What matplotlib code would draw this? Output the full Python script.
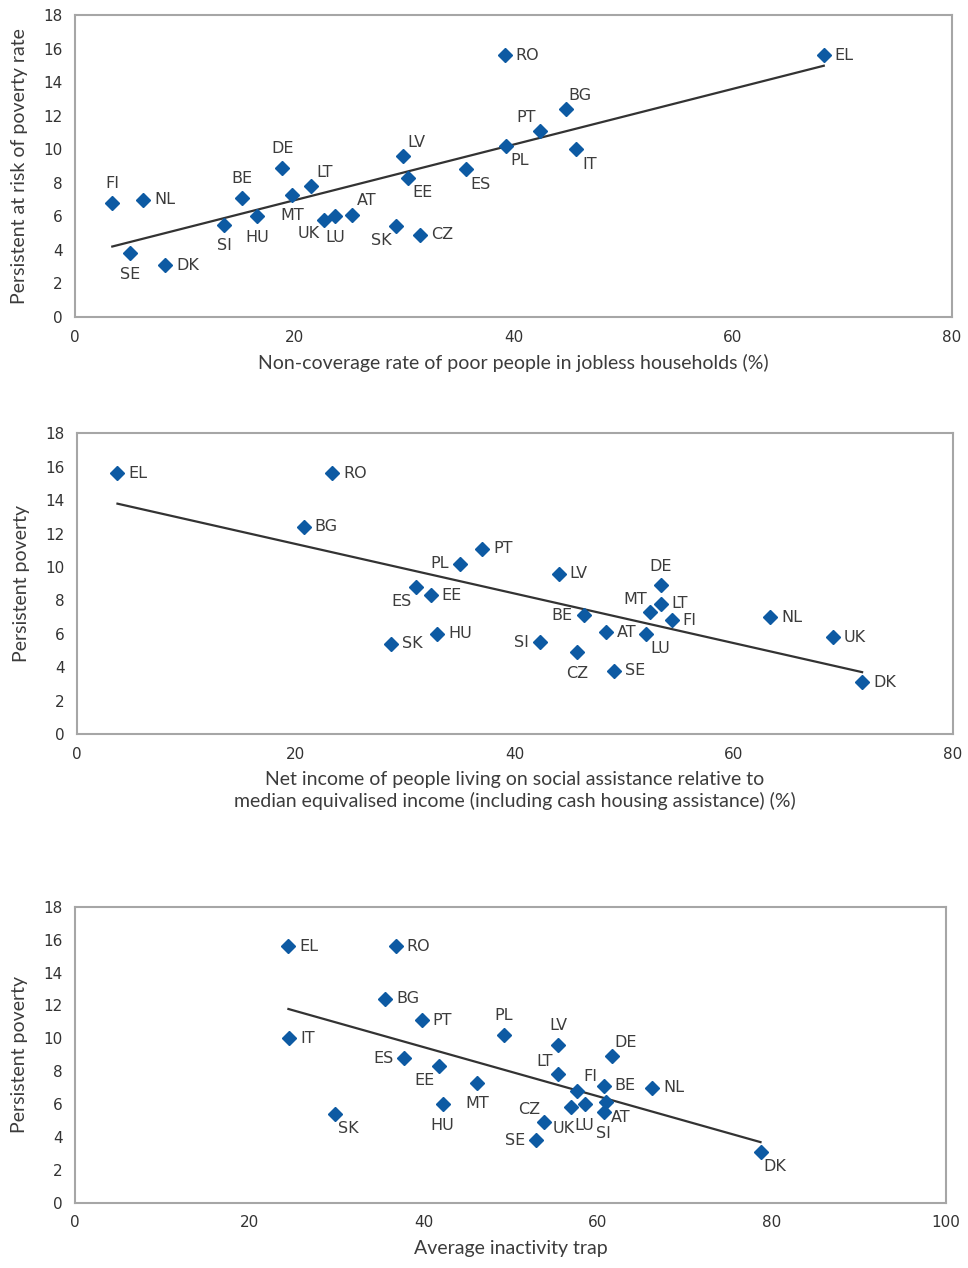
import matplotlib
matplotlib.use("Agg")
import matplotlib.pyplot as plt
import numpy as np

countries = ['BE', 'BG', 'CZ', 'DK', 'DE', 'EE', 'EL', 'ES', 'IT', 'LV', 'LT', 'LU',
             'HU', 'MT', 'NL', 'AT', 'PL', 'PT', 'RO', 'SI', 'SK', 'FI', 'SE', 'UK']
# persistent at-risk-of-poverty rate (same for all three panels)
persistent = [7.1, 12.4, 4.9, 3.1, 8.9, 8.3, 15.6, 8.8, 10.0, 9.6, 7.8, 6.0,
              6.0, 7.3, 7.0, 6.1, 10.2, 11.1, 15.6, 5.5, 5.4, 6.8, 3.8, 5.8]
non_coverage = [15.2, 44.8, 31.5, 8.2, 18.9, 30.4, 68.3, 35.7, 45.7, 29.9, 21.5, 23.7,
                16.6, 19.8, 6.2, 25.3, 39.3, 42.4, 39.2, 13.6, 29.3, 3.4, 5.0, 22.7]
net_income = [46.3, 20.7, 45.7, 71.7, 53.3, 32.3, 3.7, 31.0, np.nan, 44.0, 53.3, 52.0,
              32.9, 52.3, 63.3, 48.3, 35.0, 37.0, 23.3, 42.3, 28.7, 54.3, 49.0, 69.0]
inactivity_trap = [60.7, 35.6, 53.8, 78.7, 61.6, 41.8, 24.5, 37.8, 24.6, 55.5, 55.5, 58.5,
                   42.2, 46.2, 66.3, 61.0, 49.2, 39.8, 36.8, 60.7, 29.8, 57.6, 52.9, 57.0]

# where each country label sits around its marker
label_pos1 = dict(FI='a', NL='r', SE='b', DK='r', SI='b', BE='a', HU='b', DE='a', MT='b',
                  LT='ar', UK='bl', LU='b', AT='ar', SK='bl', LV='ar', EE='br', CZ='r',
                  ES='br', RO='r', PL='br', PT='al', BG='ar', IT='br', EL='r')
label_pos2 = dict(EL='r', RO='r', BG='r', PL='l', PT='r', ES='bl', EE='r', SK='r', HU='r',
                  LV='r', DE='a', MT='al', LT='r', FI='r', BE='l', AT='r', LU='br', SI='l',
                  CZ='b', SE='r', NL='r', UK='r', DK='r')
label_pos3 = dict(EL='r', RO='r', BG='r', PT='r', PL='a', IT='r', ES='l', EE='bl', MT='b',
                  HU='b', SK='br', LV='a', LT='al', DE='ar', FI='ar', BE='r', NL='r',
                  UK='bw', LU='b', AT='br', SI='b', CZ='al', SE='l', DK='br')

offsets = {'r': (11, 0, 'left'), 'l': (-11, 0, 'right'), 'a': (0, 19, 'center'),
           'b': (0, -21, 'center'), 'bw': (-8, -21, 'center'),
           'ar': (14, 14, 'center'), 'br': (14, -15, 'center'),
           'al': (-14, 13, 'center'), 'bl': (-15, -14, 'center')}

BLUE = '#0d5aa3'
TXT = '#3c3c3c'
LABEL_FONT = ['Liberation Sans Narrow', 'DejaVu Sans']
AXIS_FONT = ['Lato', 'DejaVu Sans']


def panel(fig, rect, xs, xmax, xlabel, ylabel, positions):
    ax = fig.add_axes(rect)
    x = np.array(xs, dtype=float)
    y = np.array(persistent, dtype=float)
    ok = ~np.isnan(x)
    ax.plot(x[ok], y[ok], 'D', color=BLUE, markersize=7.5, zorder=3)

    # linear trend over the plotted range
    k, b = np.polyfit(x[ok], y[ok], 1)
    xl = np.array([x[ok].min(), x[ok].max()])
    ax.plot(xl, k * xl + b, color='#333333', lw=1.6, zorder=2)

    for c, xi, yi in zip(countries, x, y):
        if np.isnan(xi):
            continue
        dx, dy, ha = offsets[positions[c]]
        ax.annotate(c, (xi, yi), xytext=(dx, dy), textcoords='offset pixels',
                    ha=ha, va='center', fontsize=11.5, color=TXT, family=LABEL_FONT)

    ax.set_xlim(0, xmax)
    ax.set_ylim(0, 18)
    ax.set_xticks(np.arange(0, xmax + 1, 20))
    ax.set_yticks(np.arange(0, 19, 2))
    ax.tick_params(length=0, labelsize=11, labelcolor='#333333')
    ax.tick_params(axis='x', pad=9)
    ax.tick_params(axis='y', pad=9)
    for s in ax.spines.values():
        s.set_color('#a6a6a6')
        s.set_linewidth(1.5)
    ax.set_xlabel(xlabel, fontsize=14, color=TXT, family=AXIS_FONT, labelpad=7,
                  linespacing=1.25)
    ax.set_ylabel(ylabel, fontsize=14, color=TXT, family=AXIS_FONT)
    ax.yaxis.set_label_coords(-0.054, 0.5)
    return ax


fig = plt.figure(figsize=(9.68, 12.68), dpi=100)

panel(fig, [0.0775, 0.750, 0.906, 0.238], non_coverage, 80,
      'Non-coverage rate of poor people in jobless households (%)',
      'Persistent at risk of poverty rate', label_pos1)
panel(fig, [0.0795, 0.4211, 0.905, 0.2371], net_income, 80,
      'Net income of people living on social assistance relative to\n'
      'median equivalised income (including cash housing assistance) (%)',
      'Persistent poverty', label_pos2)
panel(fig, [0.0775, 0.0515, 0.8998, 0.2334], inactivity_trap, 100,
      'Average inactivity trap', 'Persistent poverty', label_pos3)

fig.savefig('out.png', dpi=100)
